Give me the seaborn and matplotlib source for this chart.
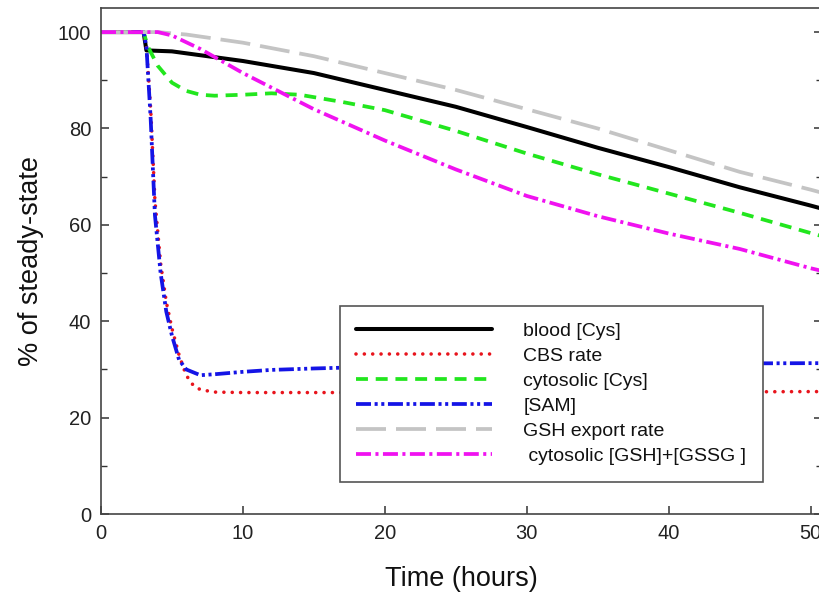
import matplotlib
matplotlib.use("Agg")
import matplotlib.pyplot as plt
import seaborn as sns
import pandas as pd

# ---- data ----
blood_x = [0, 3.0, 3.2, 5, 10, 15, 20, 25, 30, 35, 40, 45, 50, 51]
blood_y = [100, 100, 96.2, 96.0, 94.0, 91.5, 88.0, 84.5, 80.3, 76.0, 72.0, 67.8, 64.0, 63.2]

cbs_x = [0, 3.0, 3.2, 3.5, 3.8, 4.2, 4.6, 5.0, 5.5, 6.0, 6.5, 7.0, 8.0, 10, 20, 30, 40, 50, 51]
cbs_y = [100, 100, 97, 84, 65, 52, 44, 38.5, 33, 28.8, 26.7, 25.8, 25.3, 25.2, 25.2, 25.2, 25.3, 25.4, 25.4]

cys_x = [0, 3.0, 3.3, 4, 5, 6, 7, 8, 10, 12, 14, 17, 20, 25, 30, 35, 40, 45, 50, 51]
cys_y = [100, 100, 97, 93, 89.5, 87.8, 87.0, 86.8, 87.0, 87.3, 87.0, 85.5, 83.8, 79.5, 74.8, 70.5, 66.5, 62.5, 58.3, 57.5]

sam_x = [0, 3.0, 3.2, 3.5, 3.8, 4.2, 4.6, 5.0, 5.5, 6.0, 7.0, 8.0, 10, 12, 15, 20, 30, 40, 50, 51]
sam_y = [100, 100, 97, 82, 62, 50, 42, 37, 32, 30, 28.8, 29.0, 29.5, 29.9, 30.2, 30.6, 31.0, 31.2, 31.3, 31.3]

gsh_exp_x = [0, 4, 6, 10, 15, 20, 25, 30, 35, 40, 45, 50, 51]
gsh_exp_y = [100, 100, 99.5, 97.8, 95.0, 91.5, 88.0, 84.0, 80.0, 75.5, 71.0, 67.3, 66.5]

gsh_tot_x = [0, 4, 5, 7, 10, 12, 15, 20, 25, 30, 35, 40, 45, 50, 51]
gsh_tot_y = [100, 100, 99.3, 96.5, 91.5, 88.5, 84.0, 77.5, 71.5, 66.0, 61.8, 58.2, 55.0, 51.0, 50.3]

labels = ["blood [Cys]", "CBS rate", "cytosolic [Cys]", "[SAM]",
          "GSH export rate", " cytosolic [GSH]+[GSSG ]"]
x_ticks = [0, 10, 20, 30, 40, 50]
y_ticks = [0, 20, 40, 60, 80, 100]

# ---- style ----
sns.set_style("ticks")
plt.rcParams["font.family"] = ["Liberation Sans", "DejaVu Sans"]
plt.rcParams["lines.scale_dashes"] = False

fig = plt.figure(figsize=(8.2, 5.97), dpi=100)
ax = fig.add_axes([101 / 820, 83 / 597, 721 / 820, 506 / 597])

series = [
    (blood_x, blood_y, dict(color="black", lw=2.9, linestyle="-")),
    (cbs_x, cbs_y, dict(color="#e8141c", lw=2.6, linestyle=(0, (0.01, 6.0)),
                        dash_capstyle="round")),
    (cys_x, cys_y, dict(color="#22e61e", lw=2.7, linestyle=(0, (8.6, 5.6)))),
    (sam_x, sam_y, dict(color="#1414e6", lw=2.7,
                        linestyle=(0, (10.8, 2.6, 2.2, 2.6, 2.2, 2.6)))),
    (gsh_exp_x, gsh_exp_y, dict(color="#c4c4c4", lw=2.7, linestyle=(0, (21.6, 7.2)))),
    (gsh_tot_x, gsh_tot_y, dict(color="#f012f0", lw=2.7,
                                linestyle=(0, (10.8, 3.2, 2.2, 3.2)))),
]

for (xs, ys, kw), lab in zip(series, labels):
    df = pd.DataFrame({"Time": xs, "val": ys})
    sns.lineplot(data=df, x="Time", y="val", ax=ax, label=lab, **kw)

ax.set_xlim(0, 50.8)
ax.set_ylim(0, 105)
ax.set_xticks(x_ticks)
ax.set_yticks(y_ticks)
ax.set_yticks([10, 30, 50, 70, 90], minor=True)
ax.tick_params(axis="both", which="major", direction="in", length=6, width=1.1,
               labelsize=14.5, pad=7, colors="#333333", labelcolor="#222222")
ax.tick_params(axis="y", which="minor", direction="in", length=4, width=1.0,
               colors="#333333")
ax.tick_params(axis="y", which="both", right=True)

for sp in ax.spines.values():
    sp.set_visible(True)
    sp.set_color("#444444")
    sp.set_linewidth(1.2)

ax.set_xlabel("Time (hours)", fontsize=19.5, color="#111111", labelpad=17)
ax.set_ylabel("% of steady-state", fontsize=19.5, color="#111111", labelpad=10)

leg = ax.legend(loc="upper left", bbox_to_anchor=(0.331, 0.411), fontsize=14,
                handlelength=7.0, handletextpad=1.6, labelspacing=0.38,
                borderpad=0.85, frameon=True, fancybox=False, framealpha=1,
                borderaxespad=0)
leg.get_frame().set_edgecolor("#555555")
leg.get_frame().set_linewidth(1.2)
for t in leg.get_texts():
    t.set_color("#111111")

fig.savefig("out.png", dpi=100)
